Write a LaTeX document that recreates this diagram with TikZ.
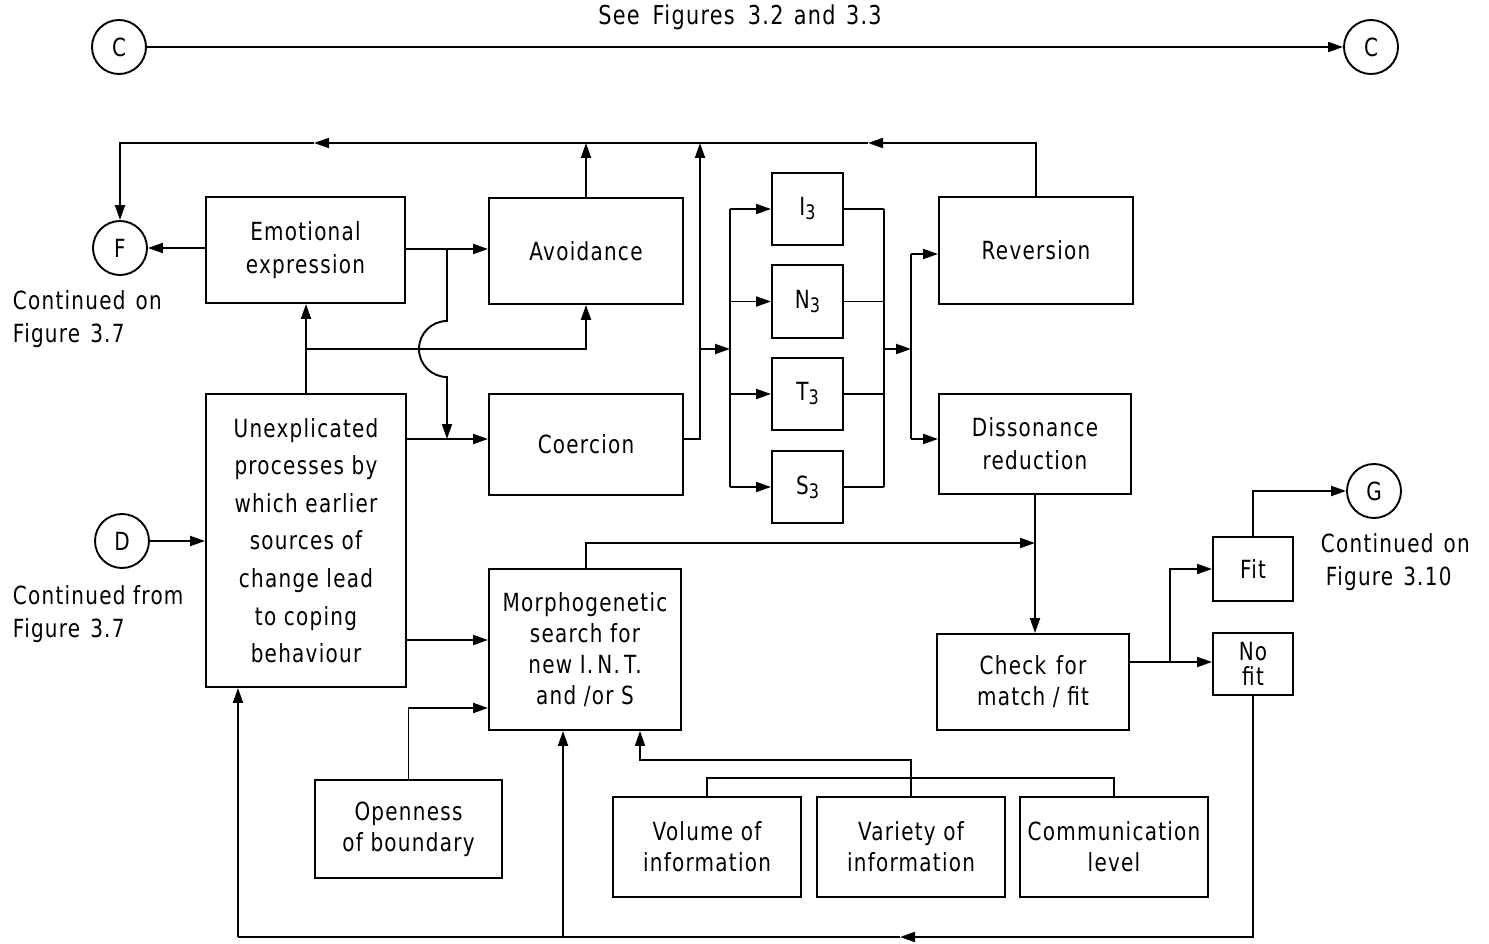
\documentclass[tikz,border=0pt]{standalone}
\usepackage{fontspec}
\setmainfont{DejaVu Sans}[FakeStretch=0.8, LetterSpace=5]
\usetikzlibrary{arrows.meta}
\newcommand\lowdigit[1]{\raisebox{-4pt}{\fontsize{20}{20}\selectfont #1}}

\begin{document}
\begin{tikzpicture}[x=1pt,y=-1pt,
  line width=1.9pt,
  every node/.style={font=\fontsize{25}{33}\selectfont},
  box/.style={draw, rectangle, align=center, inner sep=0pt},
  conn/.style={draw, circle, minimum size=54pt, inner sep=0pt},
  arr/.style={-{Triangle[length=15pt,width=10pt]}},
  note/.style={align=left, anchor=north west, inner sep=0pt}
]
\useasboundingbox (0,0) rectangle (1489,944);

% connector circles and notes
\node[conn] (cl) at (119,47) {C};
\node[conn] (cr) at (1371,47) {C};
\node[font=\fontsize{26}{30}\selectfont] (see) at (740,17) {See\hspace{0.5em}Figures\hspace{0.5em}3.2\hspace{0.4em}and\hspace{0.4em}3.3};
\node[conn] (F) at (120,248) {F};
\node[note] (fnote) at (12,290) {Continued\hspace{0.4em}on\\Figure\hspace{0.4em}3.7};
\node[conn] (D) at (122,541) {D};
\node[note] (dnote) at (12,585) {Continued from\\Figure\hspace{0.4em}3.7};
\node[conn] (G) at (1374,491) {G};
\node[note] (gnote) at (1320,533) {Continued\hspace{0.4em}on\\\hspace{0.2em}Figure\hspace{0.4em}3.10};

% process boxes
\node[box, minimum width=199pt, minimum height=106pt] (emo) at (305.5,250) {Emotional\\expression};
\node[box, minimum width=194pt, minimum height=106pt] (avoid) at (586,251) {Avoidance};
\node[box, minimum width=194pt, minimum height=101pt] (coer) at (586,444.5) {Coercion};
\node[box, minimum width=71pt, minimum height=72pt] (i3) at (807.5,209) {I\lowdigit{3}};
\node[box, minimum width=71pt, minimum height=73pt] (n3) at (807.5,301.5) {N\lowdigit{3}};
\node[box, minimum width=71pt, minimum height=72pt] (t3) at (807.5,394) {T\lowdigit{3}};
\node[box, minimum width=71pt, minimum height=72pt] (s3) at (807.5,487) {S\lowdigit{3}};
\node[box, minimum width=194pt, minimum height=107pt] (rev) at (1036,250.5) {Reversion};
\node[box, minimum width=192pt, minimum height=100pt] (diss) at (1035,444) {Dissonance\\reduction};
\node[box, minimum width=200pt, minimum height=293pt, font=\fontsize{25}{37.6}\selectfont] (unexp) at (306,540.5)
  {Unexplicated\\processes by\\which earlier\\sources of\\change lead\\to coping\\behaviour};
\node[box, minimum width=192pt, minimum height=161pt, font=\fontsize{25}{31}\selectfont] (morph) at (585,649.5)
  {Morphogenetic\\search for\\new I.\,N.\,T.\\and /or S};
\node[box, minimum width=192pt, minimum height=96pt, font=\fontsize{25}{31}\selectfont] (check) at (1033,682)
  {Check\hspace{0.4em}for\\match / fit};
\node[box, minimum width=80pt, minimum height=64pt] (fit) at (1253,569) {Fit};
\node[box, minimum width=80pt, minimum height=62pt, font=\fontsize{25}{25}\selectfont] (nofit) at (1253,664) {No\\fit};
\node[box, minimum width=187pt, minimum height=98pt, font=\fontsize{25}{31}\selectfont] (open) at (408.5,829) {Openness\\of boundary};
\node[box, minimum width=188pt, minimum height=100pt, font=\fontsize{25}{31}\selectfont] (vol) at (707,847) {Volume of\\information};
\node[box, minimum width=188pt, minimum height=100pt, font=\fontsize{25}{31}\selectfont] (var) at (911,847) {Variety of\\information};
\node[box, minimum width=188pt, minimum height=100pt, font=\fontsize{25}{31}\selectfont] (comm) at (1114,847) {Communication\\level};

% routing points
\coordinate (topy) at (0,143);
\coordinate (ta) at (868,143);
\coordinate (tb) at (314,143);
\coordinate (cu) at (700,143);
\coordinate (row2) at (0,439);
\coordinate (j0) at (447,249);
\coordinate (j1) at (447,321);
\coordinate (j3) at (447,439);
\coordinate (b1) at (306,349);
\coordinate (c1) at (700,349);
\coordinate (busL) at (730,349);
\coordinate (busLt) at (730,209);
\coordinate (busLb) at (730,487);
\coordinate (busR) at (884,349);
\coordinate (busRt) at (884,209);
\coordinate (busRb) at (884,487);
\coordinate (busR2) at (911,349);
\coordinate (busR2t) at (911,254);
\coordinate (busR2b) at (911,439);
\coordinate (m1) at (586,543);
\coordinate (r640) at (0,640);
\coordinate (r708) at (0,708);
\coordinate (ib) at (0,778);
\coordinate (iv) at (640,760);
\coordinate (bm) at (900,937);
\coordinate (bx) at (563,937);
\coordinate (bl) at (238,937);
\coordinate (r662) at (0,662);
\coordinate (fb) at (1170,662);

% top link
\draw[arr] (cl) -- (cr);

% feedback along the top
\draw[arr] (rev.north) |- (ta);
\draw[arr] (ta) -- (tb);
\draw[arr] (tb) -| (F.north);
\draw[arr] (avoid.north) -- (avoid.north |- topy);
\draw[arr] (coer.east |- row2) -| (cu);

% emotional expression and its branches
\draw[arr] (emo.west |- F.east) -- (F.east);
\draw[arr] (emo.east |- j0) -- (avoid.west |- j0);
\draw[arr] (j0) -- (j1) arc[start angle=90, end angle=270, radius=28pt] -- (j3);
\draw[arr] (unexp.north) -- (unexp.north |- emo.south);
\draw[arr] (b1) -| (avoid.south);
\draw[arr] (unexp.east |- row2) -- (coer.west |- row2);

% I N T S buses
\draw[arr] (c1) -- (busL);
\draw (busLt) -- (busLb);
\foreach \n in {i3,n3,t3,s3} \draw[arr] (busLt |- \n.west) -- (\n.west);
\foreach \n in {i3,n3,t3,s3} \draw (\n.east) -- (busRt |- \n.east);
\draw (busRt) -- (busRb);
\draw[arr] (busR) -- (busR2);
\draw (busR2t) -- (busR2b);
\draw[arr] (busR2t) -- (busR2t -| rev.west);
\draw[arr] (busR2b) -- (busR2b -| diss.west);

% towards the check
\draw[arr] (diss.south) -- (diss.south |- check.north);
\draw[arr] (m1 |- morph.north) -- (m1) -- (diss.south |- m1);
\draw[arr] (D.east) -- (D.east -| unexp.west);
\draw[arr] (unexp.east |- r640) -- (morph.west |- r640);
\draw[arr] (open.north) |- (morph.west |- r708);

% information inputs
\draw (vol.north) -- (vol.north |- ib) -- (comm.north |- ib) -- (comm.north);
\draw[arr] (var.north) -- (var.north |- iv) -- (iv) -- (iv |- morph.south);

% fit / no fit
\draw[arr] (check.east |- r662) -- (nofit.west |- r662);
\draw[arr] (fb) |- (fit.west);
\draw[arr] (fit.north) |- (G.west);

% feedback along the bottom
\draw[arr] (nofit.south) |- (bm);
\draw (bm) -- (bl);
\draw[arr] (bl) -- (bl |- unexp.south);
\draw[arr] (bx) -- (bx |- morph.south);
\end{tikzpicture}
\end{document}
